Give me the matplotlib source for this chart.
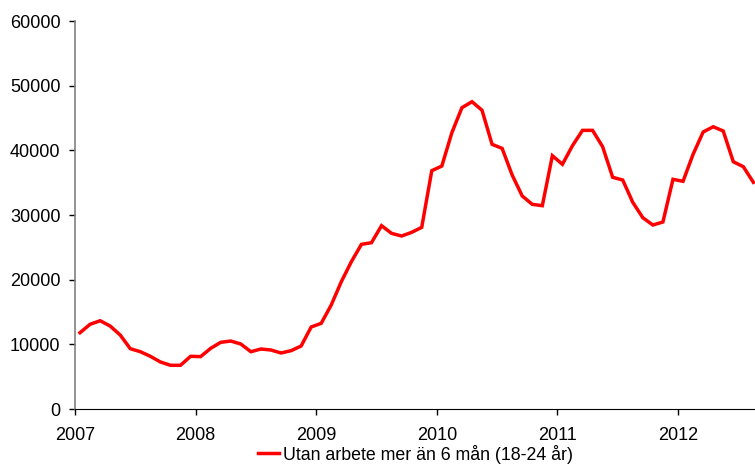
import matplotlib
matplotlib.use("Agg")
import matplotlib.pyplot as plt
import numpy as np

plt.rcParams['font.family'] = ['Liberation Sans', 'DejaVu Sans']

# monthly values, Jan 2007 - Aug 2012
values = [11800, 13100, 13650, 12830, 11440, 9330, 8860, 8150, 7270, 6760, 6760, 8150,
          8100, 9380, 10310, 10510, 10050, 8860, 9280, 9120, 8660, 9020, 9740, 12680,
          13250, 16100, 19690, 22780, 25460, 25720, 28350, 27160, 26750, 27320, 28090, 36850,
          37570, 42730, 46590, 47520, 46200, 40930, 40300, 36180, 32940, 31650, 31440, 39170,
          37840, 40720, 43090, 43090, 40560, 35830, 35410, 31960, 29580, 28450, 28920, 35520,
          35210, 39380, 42830, 43650, 42990, 38240, 37470, 35050]
series_label = "Utan arbete mer än 6 mån (18-24 år)"
year_ticks = [2007, 2008, 2009, 2010, 2011, 2012]
y_ticks = [0, 10000, 20000, 30000, 40000, 50000, 60000]

x = 2007 + (np.arange(len(values)) + 0.5) / 12

fig = plt.figure(figsize=(7.55, 4.68), dpi=100)
ax = fig.add_axes([75/755, 1 - 409/468, 680/755, 388/468])

ax.plot(x, values, color='#ff0000', lw=2.5, label=series_label, solid_joinstyle='miter')

ax.set_xlim(2007, 2007 + 680/120.6)
ax.set_ylim(0, 60000)
ax.set_xticks(year_ticks)
ax.set_yticks(y_ticks)
ax.tick_params(axis='both', labelsize=13, color='black', width=1)
ax.tick_params(axis='x', length=4, pad=9)
ax.tick_params(axis='y', length=4.5, pad=6)

for s in ['top', 'right']:
    ax.spines[s].set_visible(False)
ax.spines['left'].set_color('#808080')
ax.spines['left'].set_linewidth(1.2)
ax.spines['bottom'].set_color('black')

fig.legend(loc='lower center', bbox_to_anchor=(0.55, -0.025), frameon=False,
           fontsize=12.8, handlelength=1.2, handletextpad=0.2)

fig.savefig("out.png", dpi=100)
